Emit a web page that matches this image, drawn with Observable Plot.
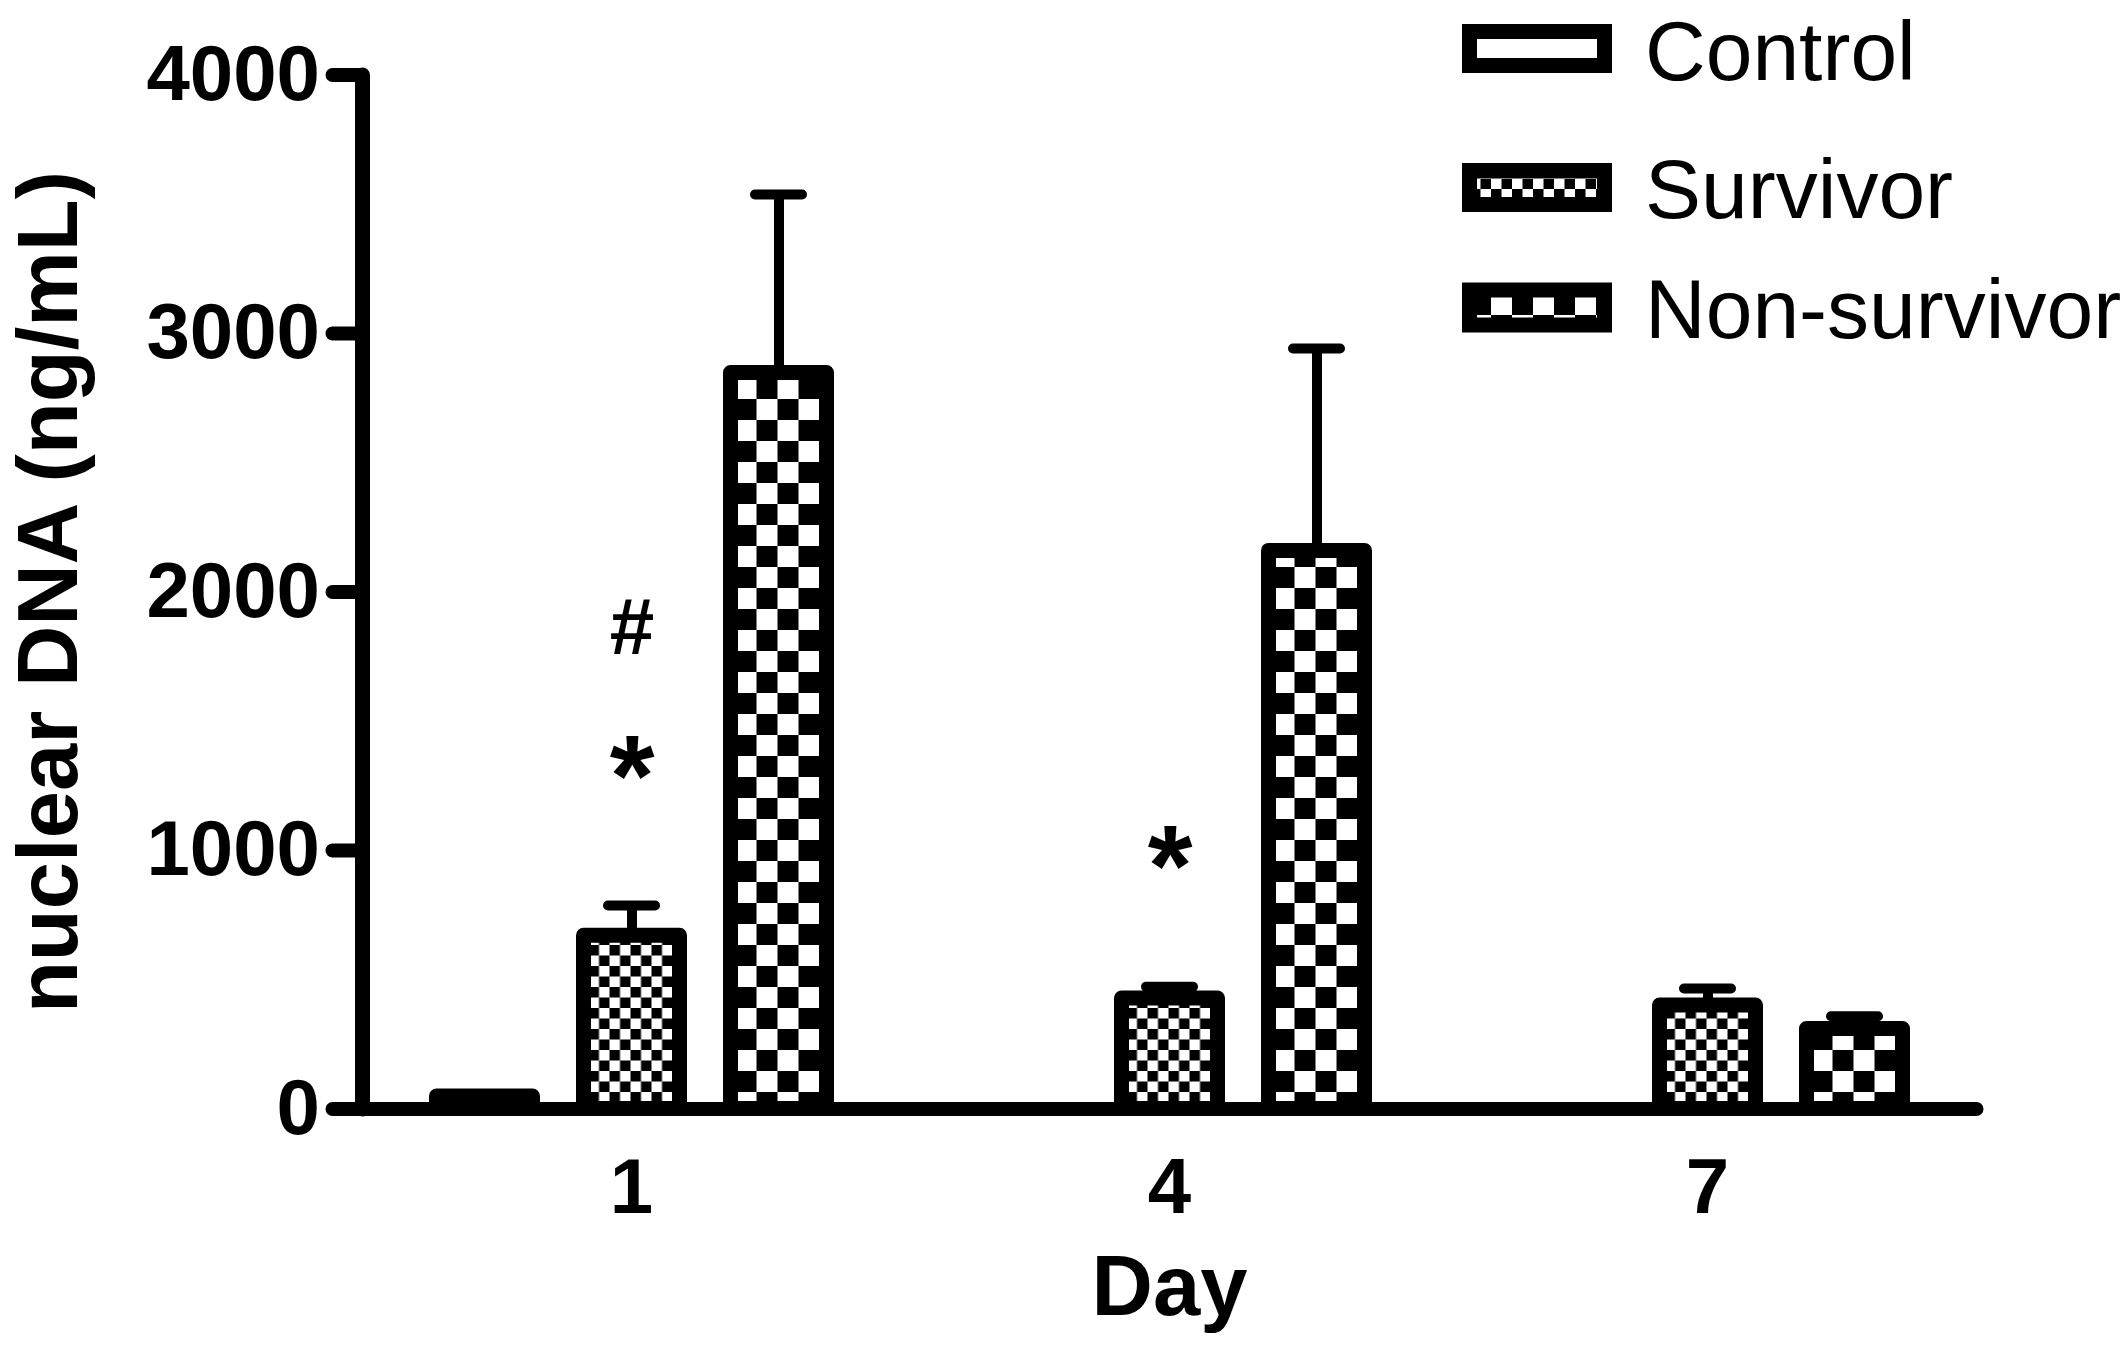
<!DOCTYPE html>
<html>
<head>
<meta charset="utf-8">
<script src="https://cdn.jsdelivr.net/npm/d3@7"></script>
<script src="https://cdn.jsdelivr.net/npm/@observablehq/plot@0.6"></script>
<style>
  html, body { margin: 0; padding: 0; background: white; }
  #wrap { position: relative; width: 2126px; height: 1348px; font-family: "Liberation Sans", Arial, sans-serif; }
  #legend { position: absolute; left: 0; top: 0; pointer-events: none; }
</style>
</head>
<body>
<div id="wrap"></div>
<script>
// ---- data ----
const days = ["1", "4", "7"];
const groups = ["Control", "Survivor", "Non-survivor"];
const controlMean = [48, null, null];
const controlSem = [null, null, null];
const survivorMean = [670, 427, 400];
const survivorSem = [117, 46, 66];
const nonSurvivorMean = [2847, 2159, 309];
const nonSurvivorSem = [691, 783, 50];
const yTicks = [0, 1000, 2000, 3000, 4000];
const annotDays = ["1", "1", "4"];
const annotLabels = ["#", "*", "*"];
const annotValues = [1860, 1280, 932];
const yTitle = "nuclear DNA (ng/mL)";
const xTitle = "Day";

// ---- table built from the arrays ----
const means = [controlMean, survivorMean, nonSurvivorMean];
const sems = [controlSem, survivorSem, nonSurvivorSem];
const rows = [];
groups.forEach((g, gi) => days.forEach((d, di) => {
  if (means[gi][di] != null) rows.push({day: d, group: g, mean: means[gi][di], sem: sems[gi][di]});
}));
const errRows = rows.filter(r => r.sem != null);
const annot = annotDays.map((d, i) => ({day: d, group: "Survivor", label: annotLabels[i], value: annotValues[i]}));

const patternIds = ["url(#pControl)", "url(#pSurvivor)", "url(#pNonSurvivor)"];

const FONT = "Liberation Sans, Arial, Helvetica, sans-serif";

const plot = Plot.plot({
  width: 2126,
  height: 1348,
  marginLeft: 361.5,
  marginRight: 149.5,
  marginTop: 74.5,
  marginBottom: 239.5,
  style: {fontFamily: FONT, background: "white", color: "black", overflow: "visible"},
  fx: {domain: days, padding: 0, axis: null},
  x: {domain: groups, paddingInner: 0.347, paddingOuter: 0.503, axis: null},
  y: {domain: [0, 4000], axis: null},
  color: {type: "ordinal", domain: groups, range: patternIds},
  marks: [
    Plot.ruleX(errRows, {fx: "day", x: "group", y1: "mean", y2: d => d.mean + d.sem, stroke: "black", strokeWidth: 10}),
    Plot.tickY(errRows, {fx: "day", x: "group", y: d => d.mean + d.sem, stroke: "black", strokeWidth: 10, strokeLinecap: "round", insetLeft: 24.5, insetRight: 24.5}),
    Plot.barY(rows, {fx: "day", x: "group", y: "mean", fill: "group", stroke: "black", strokeWidth: 15, strokeLinejoin: "round"}),
    Plot.frame({anchor: "bottom", facet: "super", stroke: "black", strokeWidth: 14, strokeLinecap: "round"}),
    Plot.frame({anchor: "left", facet: "super", stroke: "black", strokeWidth: 15, strokeLinecap: "round"}),
    Plot.axisY({ticks: yTicks, tickSize: 29.5, tickPadding: 13, tickFormat: d => String(d), fontSize: 78, fontWeight: "bold", stroke: "black", strokeWidth: 14, strokeLinecap: "round", label: null}),
    Plot.axisFx({anchor: "bottom", tickSize: 0, tickPadding: 49, fontSize: 78, fontWeight: "bold", label: null}),
    Plot.text(annot, {fx: "day", x: "group", y: "value", text: "label", fontSize: d => d.label === "*" ? 115 : 80, fontWeight: "bold", lineAnchor: "middle", fill: "black"}),
    Plot.text([xTitle], {facet: "super", text: d => d, frameAnchor: "bottom", textAnchor: "middle", lineAnchor: "bottom", dy: 206, fontSize: 85, fontWeight: "bold", fill: "black"}),
    Plot.text([yTitle], {facet: "super", text: d => d, frameAnchor: "left", textAnchor: "middle", rotate: -90, lineAnchor: "top", dx: -345.5, fontSize: 85, fontWeight: "bold", fill: "black"})
  ]
});

// pattern definitions
const defs = d3.select(plot).insert("defs", ":first-child");
function checker(id, cell) {
  const p = defs.append("pattern").attr("id", id).attr("patternUnits", "userSpaceOnUse")
    .attr("width", cell * 2).attr("height", cell * 2);
  p.append("rect").attr("width", cell * 2).attr("height", cell * 2).attr("fill", "white");
  p.append("rect").attr("width", cell).attr("height", cell).attr("fill", "black");
  p.append("rect").attr("x", cell).attr("y", cell).attr("width", cell).attr("height", cell).attr("fill", "black");
}
defs.append("pattern").attr("id", "pControl").attr("patternUnits", "userSpaceOnUse")
  .attr("width", 10).attr("height", 10)
  .append("rect").attr("width", 10).attr("height", 10).attr("fill", "white");
checker("pSurvivor", 10.5);
checker("pNonSurvivor", 21);

const wrap = document.getElementById("wrap");
wrap.appendChild(plot);

// legend (top right)
const legendY = [31.5, 170.5, 290];
const legendH = [34, 34, 35];
const legendBase = [80, 218, 338];
const leg = d3.select(wrap).append("svg").attr("id", "legend")
  .attr("width", 2126).attr("height", 380);
groups.forEach((g, i) => {
  leg.append("rect").attr("x", 1469.5).attr("y", legendY[i]).attr("width", 135).attr("height", legendH[i])
    .attr("fill", patternIds[i]).attr("stroke", "black").attr("stroke-width", 15);
  leg.append("text").attr("x", 1645).attr("y", legendBase[i])
    .attr("font-family", FONT).attr("font-size", 84).attr("fill", "black").text(g);
});
</script>
</body>
</html>
